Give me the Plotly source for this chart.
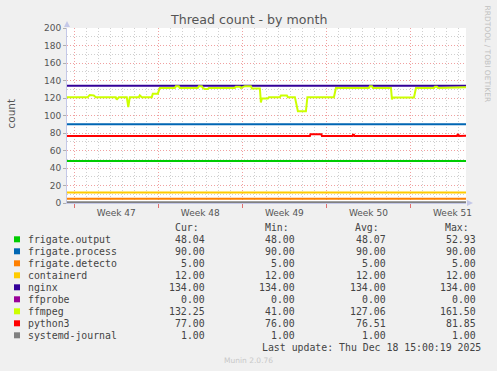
import plotly.graph_objects as go

# ---------------- data ----------------
START = "2025-11-15 09:30"
END = "2025-12-18 15:00"

week_starts = ["2025-11-16", "2025-11-23", "2025-11-30", "2025-12-07", "2025-12-14"]
week_labels = ["Week 47", "Week 48", "Week 49", "Week 50", "Week 51"]

flat_t = [START, END]
frigate_output = [48.0, 48.04]
frigate_process = [90.0, 90.0]
frigate_detecto = [5.0, 5.0]
containerd = [12.0, 12.0]
nginx = [134.0, 134.0]
ffprobe = [0.0, 0.0]
systemd_journal = [1.0, 1.0]

ffmpeg_t = [
    START, "2025-11-17 03:00", "2025-11-17 07:00", "2025-11-17 15:00", "2025-11-17 19:00",
    "2025-11-19 11:00", "2025-11-19 13:00", "2025-11-19 17:00",
    "2025-11-20 09:00", "2025-11-20 12:00", "2025-11-20 15:00",
    "2025-11-21 09:00", "2025-11-21 11:00", "2025-11-21 15:00",
    "2025-11-22 11:00", "2025-11-22 13:00", "2025-11-22 23:00", "2025-11-23 03:00",
    "2025-11-24 09:00", "2025-11-24 11:00", "2025-11-24 17:00", "2025-11-24 19:00",
    "2025-11-26 07:00", "2025-11-26 09:00", "2025-11-26 15:00", "2025-11-26 17:00",
    "2025-11-26 21:00", "2025-11-27 03:00", "2025-11-27 05:00",
    "2025-11-29 09:00", "2025-11-29 11:00", "2025-11-29 19:00", "2025-11-29 21:00",
    "2025-11-30 05:00", "2025-11-30 17:00", "2025-11-30 19:00",
    "2025-12-01 11:00", "2025-12-01 13:00", "2025-12-01 15:00", "2025-12-02 03:00", "2025-12-02 05:00",
    "2025-12-03 03:00", "2025-12-03 05:00", "2025-12-03 17:00", "2025-12-03 19:00",
    "2025-12-04 09:00", "2025-12-04 15:00", "2025-12-05 07:00", "2025-12-05 10:00",
    "2025-12-07 15:00", "2025-12-07 19:00",
    "2025-12-10 13:00", "2025-12-10 15:00", "2025-12-10 19:00", "2025-12-10 21:00",
    "2025-12-12 09:00", "2025-12-12 11:00", "2025-12-12 13:00",
    "2025-12-14 07:00", "2025-12-14 11:00",
    "2025-12-15 23:00", "2025-12-16 01:00", "2025-12-16 05:00", "2025-12-16 07:00",
    END,
]
ffmpeg = [
    121, 121, 123.5, 123, 121,
    121, 118, 121,
    121, 109.5, 121,
    121, 123, 121,
    121, 125, 125, 131.5,
    131.5, 133.3, 133.3, 131.5,
    131.5, 133.5, 133.5, 131.5,
    130.3, 130.3, 131.5,
    131.5, 133, 133, 131.5,
    133.5, 133.5, 131,
    131, 115, 119.5, 119.5, 121,
    121, 123, 123, 121,
    121, 104.8, 104.8, 121,
    121, 131.5,
    131.5, 133.5, 133.5, 131.5,
    131.5, 118.5, 120.5,
    120.5, 131.5,
    131.5, 133, 133, 131.5,
    132.25,
]

python3_t = [
    START, "2025-12-05 15:00", "2025-12-05 16:00", "2025-12-06 14:00", "2025-12-06 15:00",
    "2025-12-09 04:00", "2025-12-09 05:00", "2025-12-09 07:00", "2025-12-09 08:00",
    "2025-12-17 21:00", "2025-12-17 22:00", "2025-12-18 00:00", "2025-12-18 01:00", END,
]
python3 = [76.5, 76.5, 78.5, 78.5, 76.5, 76.5, 78, 78, 76.5, 76.5, 78, 78, 76.5, 77]

names = ["frigate.output", "frigate.process", "frigate.detecto", "containerd", "nginx",
         "ffprobe", "ffmpeg", "python3", "systemd-journal"]
colors = ["#00CC00", "#0066B3", "#FF8000", "#FFCC00", "#330099",
          "#990099", "#CCFF00", "#FF0000", "#808080"]
cur = [48.04, 90.00, 5.00, 12.00, 134.00, 0.00, 132.25, 77.00, 1.00]
mins = [48.00, 90.00, 5.00, 12.00, 134.00, 0.00, 41.00, 76.00, 1.00]
avgs = [48.07, 90.00, 5.00, 12.00, 134.00, 0.00, 127.06, 76.51, 1.00]
maxs = [52.93, 90.00, 5.00, 12.00, 134.00, 0.00, 161.50, 81.85, 1.00]

series = [
    (flat_t, frigate_output), (flat_t, frigate_process), (flat_t, frigate_detecto),
    (flat_t, containerd), (flat_t, nginx), (flat_t, ffprobe), (ffmpeg_t, ffmpeg),
    (python3_t, python3), (flat_t, systemd_journal),
]

# ---------------- layout helpers ----------------
W, H = 497, 371
L, R, T, B = 67, 31, 28, 168
PW, PH = W - L - R, H - T - B


def px(x):
    return (x - L) / PW


def py(y):
    return (H - B - y) / PH


PINK = "#f0a0a0"
GRAY = "#cfcfcf"
AXIS = "#c4c8e8"
TXT = "#555555"
MONO = "DejaVu Sans Mono"
SANS = "DejaVu Sans"

fig = go.Figure()
for (t, v), name, col in zip(series, names, colors):
    fig.add_trace(go.Scatter(x=t, y=v, mode="lines", name=name,
                             line=dict(color=col, width=2), showlegend=False,
                             hoverinfo="skip"))

fig.update_layout(
    width=W, height=H,
    margin=dict(l=L, r=R, t=T, b=B, autoexpand=False),
    paper_bgcolor="#f0f0f0", plot_bgcolor="#ffffff",
    showlegend=False,
    font=dict(family=SANS, size=9, color=TXT),
)

fig.update_xaxes(
    type="date", range=[START, END],
    tickmode="array", tickvals=week_starts, ticktext=week_labels,
    ticklabelshift=42, ticklabelstandoff=-3,
    ticks="outside", ticklen=4, tickcolor="#e07070", tickwidth=1,
    showgrid=True, gridcolor=PINK, griddash="1px,2px", gridwidth=1,
    minor=dict(tickmode="linear", tick0="2025-11-16", dtick=86400000,
               showgrid=True, gridcolor=GRAY, griddash="1px,2px", ticks=""),
    showline=True, linecolor=AXIS, linewidth=1,
    zeroline=False, tickfont=dict(family=SANS, size=9, color=TXT),
    fixedrange=True,
)
fig.update_yaxes(
    range=[0, 200], tickmode="linear", tick0=0, dtick=20,
    ticks="outside", ticklen=3, tickcolor="#b0b0b0",
    showgrid=True, gridcolor=PINK, griddash="1px,2px", gridwidth=1,
    minor=dict(tickmode="linear", tick0=0, dtick=10, showgrid=True,
               gridcolor=GRAY, griddash="1px,2px", ticks=""),
    showline=True, linecolor=AXIS, linewidth=1,
    zeroline=False, tickfont=dict(family=SANS, size=9, color=TXT),
    fixedrange=True,
)

shapes = []
# axis arrows
shapes.append(dict(type="path", xref="paper", yref="paper",
                   path=f"M {px(67)},{py(21)} L {px(64)},{py(27)} L {px(70)},{py(27)} Z",
                   fillcolor=AXIS, line=dict(width=0)))
shapes.append(dict(type="path", xref="paper", yref="paper",
                   path=f"M {px(473)},{py(203)} L {px(467)},{py(200)} L {px(467)},{py(206)} Z",
                   fillcolor=AXIS, line=dict(width=0)))

ann = []
ann.append(dict(text="Thread count - by month", x=px(248), y=py(19), xref="paper", yref="paper",
                showarrow=False, xanchor="center", yanchor="middle",
                font=dict(family=SANS, size=12.6, color=TXT)))
ann.append(dict(text="count", x=px(10), y=py(113.5), xref="paper", yref="paper",
                showarrow=False, textangle=-90, xanchor="center", yanchor="middle",
                font=dict(family=SANS, size=10.5, color=TXT)))
ann.append(dict(text="RRDTOOL / TOBI OETIKER", x=px(487), y=py(53.5), xref="paper", yref="paper",
                showarrow=False, textangle=90, xanchor="center", yanchor="middle",
                font=dict(family=SANS, size=7.5, color="#c0c0c0")))
ann.append(dict(text="Munin 2.0.76", x=px(248), y=py(360), xref="paper", yref="paper",
                showarrow=False, xanchor="center", yanchor="middle",
                font=dict(family=SANS, size=7.5, color="#c8c8c8")))

LEGF = dict(family=MONO, size=9.85, color="#444444")
header_y = 227.5
for label, xr in [("Cur:", 200), ("Min:", 290), ("Avg:", 380), ("Max:", 470)]:
    ann.append(dict(text=label, x=px(xr), y=py(header_y), xref="paper", yref="paper",
                    showarrow=False, xanchor="right", yanchor="middle", font=LEGF, borderpad=0))

for i, (name, col) in enumerate(zip(names, colors)):
    yc = 239.3 + 12 * i
    shapes.append(dict(type="rect", xref="paper", yref="paper",
                       x0=px(14), x1=px(20), y0=py(yc + 3), y1=py(yc - 3),
                       fillcolor=col, line=dict(width=0)))
    ann.append(dict(text=name, x=px(26.5), y=py(yc), xref="paper", yref="paper",
                    showarrow=False, xanchor="left", yanchor="middle", font=LEGF, borderpad=0))
    for val, xr in [(cur[i], 206), (mins[i], 296), (avgs[i], 386.5), (maxs[i], 477)]:
        ann.append(dict(text=f"{val:.2f}", x=px(xr), y=py(yc), xref="paper", yref="paper",
                        showarrow=False, xanchor="right", yanchor="middle", font=LEGF, borderpad=0))

ann.append(dict(text="Last update: Thu Dec 18 15:00:19 2025", x=px(481.5), y=py(347.3),
                xref="paper", yref="paper", showarrow=False, xanchor="right", yanchor="middle",
                font=LEGF, borderpad=0))

fig.update_layout(shapes=shapes, annotations=ann)
fig.write_html("out.html",
               config={"displayModeBar": False, "staticPlot": True},
               post_script="document.body.style.margin='0';document.body.style.padding='0';"
                           "document.documentElement.style.overflow='hidden';")
